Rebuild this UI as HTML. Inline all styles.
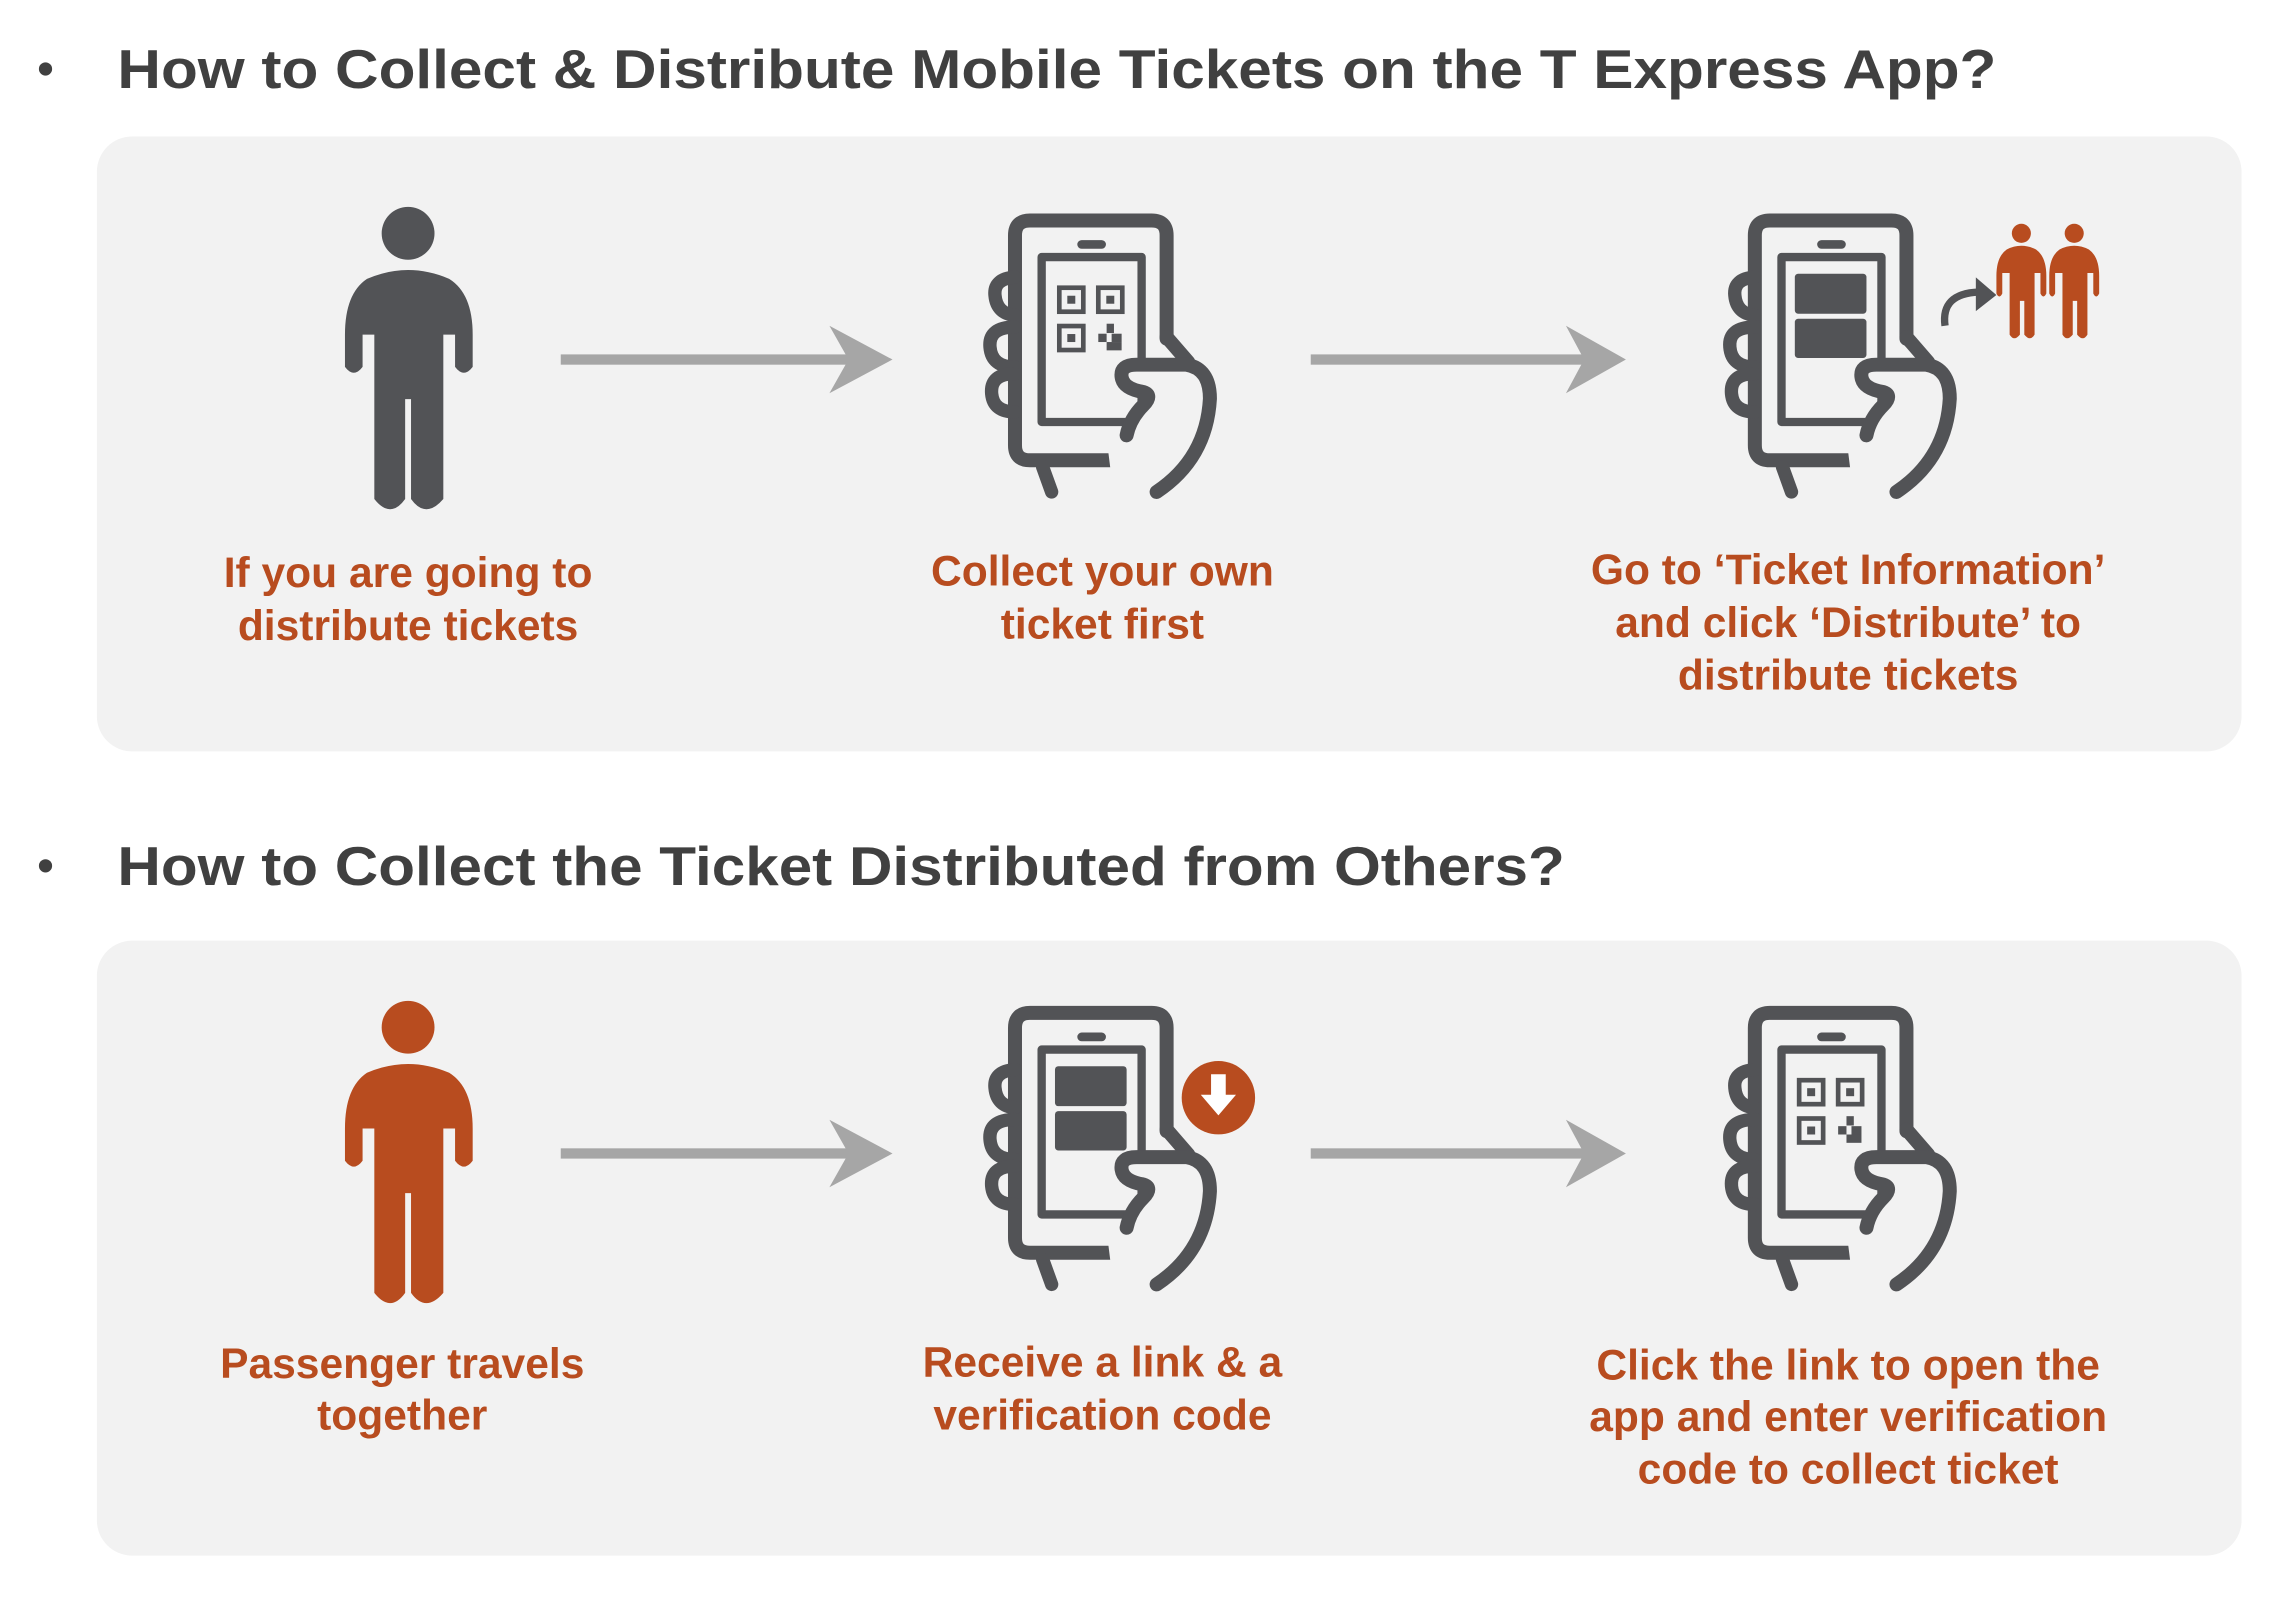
<!DOCTYPE html>
<html><head><meta charset="utf-8"><style>
html,body{margin:0;padding:0;background:#fff;}
svg{display:block;}
text{font-family:"Liberation Sans",Arial,sans-serif;font-weight:bold;}
</style></head><body>
<svg width="2290" height="1604" viewBox="0 0 1560 1093" preserveAspectRatio="none" xmlns="http://www.w3.org/2000/svg">
<defs>
  <g id="phone" fill="none" stroke="#525356" stroke-linecap="round" stroke-linejoin="round">
    <path d="M560 400 L560 90 Q560 45 515 45 L150 45 Q105 45 105 90 L105 720 Q105 765 150 765 L410 765" stroke-width="42"/>
    <line x1="305" y1="117" x2="365" y2="117" stroke-width="26"/>
    <rect x="185" y="155" width="300" height="495" stroke-width="25"/>
    <line x1="560" y1="395" x2="625" y2="470" stroke-width="42"/>
    <path d="M105 215 Q40 220 45 270 Q50 325 105 330" stroke-width="40"/>
    <path d="M105 365 Q25 365 30 425 Q35 485 105 485" stroke-width="40"/>
    <path d="M105 505 Q30 505 35 565 Q40 620 105 620" stroke-width="40"/>
    <line x1="188" y1="785" x2="215" y2="860" stroke-width="40"/>
    <path d="M440 690 Q450 640 490 600 Q520 570 490 560 Q430 550 425 515 Q420 478 470 478 L620 478 Q690 490 690 580 Q680 760 530 860 L400 860 L380 700 Z" fill="#f2f2f2" stroke="none"/>
    <path d="M440 690 Q450 640 490 600 Q520 570 490 560 Q430 550 425 515 Q420 478 470 478 L620 478 Q690 490 690 580 Q680 760 530 860" stroke-width="42"/>
  </g>
  <g id="qr" fill="none" stroke="#525356">
    <rect x="238" y="247" width="72" height="72" stroke-width="14"/>
    <rect x="262" y="271" width="24" height="24" fill="#525356" stroke="none"/>
    <rect x="355" y="247" width="72" height="72" stroke-width="14"/>
    <rect x="379" y="271" width="24" height="24" fill="#525356" stroke="none"/>
    <rect x="238" y="362" width="72" height="72" stroke-width="14"/>
    <rect x="262" y="386" width="24" height="24" fill="#525356" stroke="none"/>
    <g fill="#525356" stroke="none">
      <rect x="380" y="355" width="22" height="28"/><rect x="355" y="385" width="25" height="25"/>
      <rect x="395" y="385" width="30" height="25"/><rect x="380" y="410" width="45" height="25"/>
    </g>
  </g>
  <g id="blocks" fill="#525356">
    <rect x="225" y="205" width="215" height="120" rx="10"/>
    <rect x="225" y="340" width="215" height="118" rx="10"/>
  </g>
  <path id="person" d="M250 190 Q278 178 306 190 Q322 200 322 228 L322 250 Q316 258 310 250 L310 228 L302 228 L302 340 Q290 354 280 340 L280 272 L276 272 L276 340 Q266 354 255 340 L255 228 L247 228 L247 250 Q241 258 235 250 L235 228 Q235 200 250 190 Z"/>
  <g id="arrow">
    <rect x="382" y="241.5" width="200" height="7" fill="#a6a6a6"/>
    <path d="M565 222 L608 245 L565 268 L578 245 Z" fill="#a6a6a6"/>
  </g>
</defs>

<circle cx="31" cy="47" r="4.5" fill="#404040"/>
<text x="80" y="60" font-size="37" fill="#404040" textLength="1280" lengthAdjust="spacingAndGlyphs">How to Collect &amp; Distribute Mobile Tickets on the T Express App?</text>
<rect x="66" y="93" width="1461" height="419" rx="24" fill="#f2f2f2"/>

<circle cx="278" cy="159" r="18" fill="#525356"/>
<use href="#person" fill="#525356"/>
<use href="#arrow"/>
<use href="#arrow" transform="translate(511,0) scale(0.95,1) translate(20,0)"/>

<g transform="translate(667.6,140) scale(0.227)"><use href="#phone"/><use href="#qr"/></g>
<g transform="translate(1171.6,140) scale(0.227)"><use href="#phone"/><use href="#blocks"/></g>

<g fill="#b84c1f">
  <circle cx="1377" cy="159" r="6.5"/>
  <path d="M1367 170 Q1377 165 1387 170 Q1394 175 1394 188 L1394 200 Q1392 204 1390 200 L1390 186 L1386 186 L1386 228 Q1383 233 1379 228 L1379 205 L1376 205 L1376 228 Q1372 233 1369 228 L1369 186 L1364 186 L1364 200 Q1362 204 1360 200 L1360 188 Q1360 175 1367 170 Z"/>
  <circle cx="1413" cy="159" r="6.5"/>
  <path d="M1403 170 Q1413 165 1423 170 Q1430 175 1430 188 L1430 200 Q1428 204 1426 200 L1426 186 L1422 186 L1422 228 Q1419 233 1415 228 L1415 205 L1412 205 L1412 228 Q1408 233 1405 228 L1405 186 L1400 186 L1400 200 Q1398 204 1396 200 L1396 188 Q1396 175 1403 170 Z"/>
</g>
<path d="M1325 222 Q1322 200 1348 199" fill="none" stroke="#525356" stroke-width="5"/>
<path d="M1346 189 L1360 201 L1346 212 Z" fill="#525356"/>

<g font-size="29" fill="#b84c1f" text-anchor="middle">
  <text x="278" y="400">If you are going to</text>
  <text x="278" y="436">distribute tickets</text>
  <text x="751" y="399">Collect your own</text>
  <text x="751" y="435">ticket first</text>
  <text x="1259" y="398">Go to ‘Ticket Information’</text>
  <text x="1259" y="434">and click ‘Distribute’ to</text>
  <text x="1259" y="470">distribute tickets</text>
</g>

<circle cx="31" cy="590" r="4.5" fill="#404040"/>
<text x="80" y="603" font-size="37" fill="#404040" textLength="986" lengthAdjust="spacingAndGlyphs">How to Collect the Ticket Distributed from Others?</text>
<rect x="66" y="641" width="1461" height="419" rx="24" fill="#f2f2f2"/>

<g transform="translate(0,541)">
  <circle cx="278" cy="159" r="18" fill="#b84c1f"/>
  <use href="#person" fill="#b84c1f"/>
  <use href="#arrow"/>
  <use href="#arrow" transform="translate(511,0) scale(0.95,1) translate(20,0)"/>
</g>

<g transform="translate(667.6,680) scale(0.227)"><use href="#phone"/><use href="#blocks"/></g>
<g transform="translate(1171.6,680) scale(0.227)"><use href="#phone"/><use href="#qr"/></g>

<circle cx="830" cy="748" r="25" fill="#b84c1f"/>
<path d="M825 732 L835 732 L835 746 L842 746 L830 760 L818 746 L825 746 Z" fill="#fff"/>

<g font-size="29" fill="#b84c1f" text-anchor="middle">
  <text x="274" y="939">Passenger travels</text>
  <text x="274" y="974">together</text>
  <text x="751" y="938">Receive a link &amp; a</text>
  <text x="751" y="974">verification code</text>
  <text x="1259" y="940">Click the link to open the</text>
  <text x="1259" y="975">app and enter verification</text>
  <text x="1259" y="1011">code to collect ticket</text>
</g>
</svg>
</body></html>
